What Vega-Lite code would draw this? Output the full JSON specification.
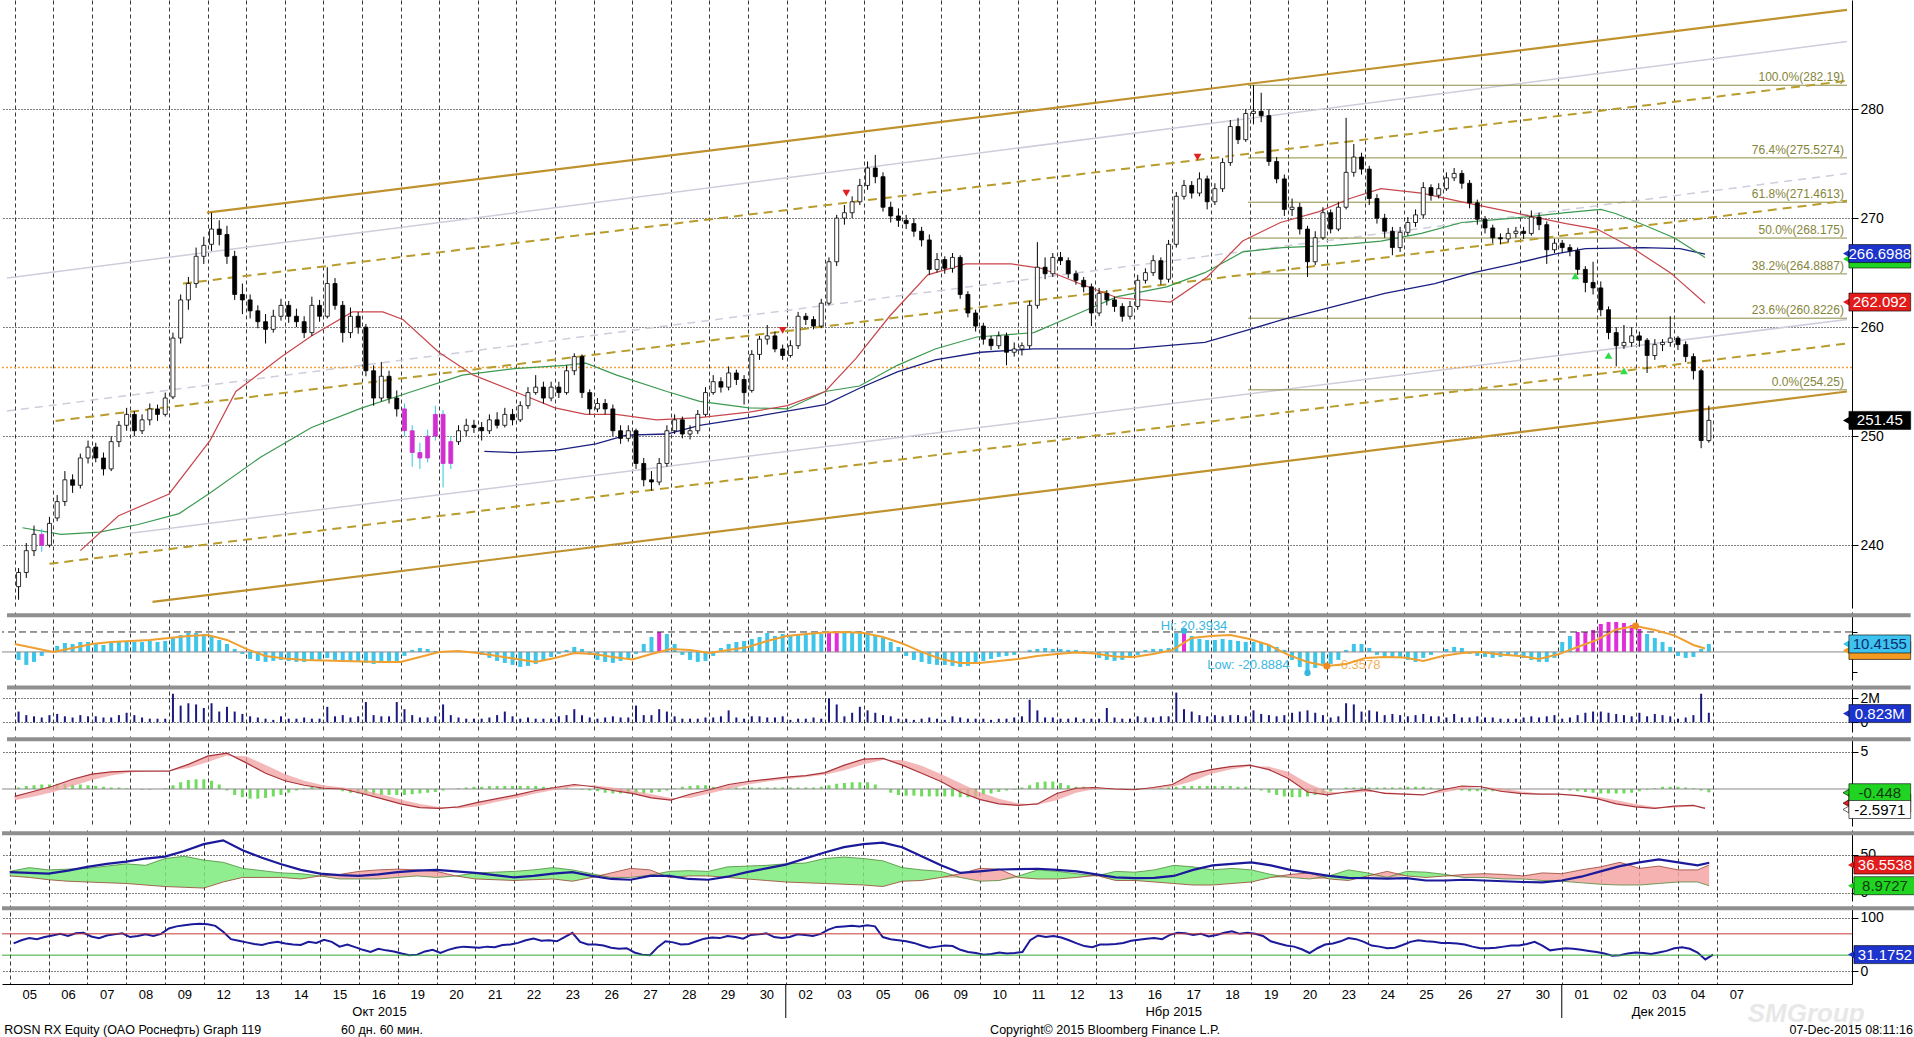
{
  "$schema": "https://vega.github.io/schema/vega-lite/v6.json",
  "background": "white",
  "padding": 0,
  "spacing": 4,
  "bounds": "flush",
  "config": {
    "font": "Liberation Sans",
    "view": {"stroke": null},
    "axis": {"labelFont": "Liberation Sans", "labelFontSize": 14, "labelColor": "#000", "domainColor": "#000", "tickColor": "#000"}
  },
  "datasets": {
    "bars": [
      {"t":0.1,"o":236.2,"h":237.9,"l":235,"c":237.5,"v":0.9,"m":-8,"mh":0.2,"r":52},
      {"t":0.3,"o":237.5,"h":240.2,"l":237,"c":239.5,"v":0.6,"m":-13,"mh":0.4,"r":58},
      {"t":0.5,"o":239.5,"h":241.8,"l":239,"c":241,"v":0.5,"m":-10,"mh":0.5,"r":62},
      {"t":0.7,"o":241,"h":241.5,"l":239.4,"c":240,"v":0.4,"m":-4,"mh":0.6,"r":60},
      {"t":0.9,"o":240,"h":242.6,"l":239.8,"c":242,"v":0.6,"m":1,"mh":0.6,"r":64},
      {"t":1.1,"o":242.5,"h":244.6,"l":242.2,"c":244,"v":0.7,"m":6,"mh":0.7,"r":67},
      {"t":1.3,"o":244,"h":246.8,"l":243.6,"c":246,"v":0.5,"m":9,"mh":0.7,"r":70},
      {"t":1.5,"o":246,"h":246.5,"l":244.8,"c":245.5,"v":0.4,"m":8,"mh":0.6,"r":66},
      {"t":1.7,"o":245.5,"h":248.4,"l":245.2,"c":248,"v":0.6,"m":10,"mh":0.6,"r":71},
      {"t":1.9,"o":248,"h":249.6,"l":247.5,"c":249,"v":0.5,"m":10,"mh":0.5,"r":72},
      {"t":2.1,"o":249,"h":249.4,"l":247.6,"c":248,"v":0.5,"m":8,"mh":0.4,"r":65},
      {"t":2.3,"o":248,"h":248.5,"l":246.4,"c":247,"v":0.4,"m":7,"mh":0.3,"r":62},
      {"t":2.5,"o":247,"h":250,"l":246.8,"c":249.5,"v":0.4,"m":9,"mh":0.2,"r":67},
      {"t":2.7,"o":249.5,"h":251.4,"l":249,"c":251,"v":0.6,"m":10,"mh":0.2,"r":69},
      {"t":2.9,"o":251,"h":252.6,"l":250.5,"c":252,"v":0.8,"m":11,"mh":0.1,"r":71},
      {"t":3.1,"o":252,"h":252.3,"l":250,"c":250.5,"v":0.6,"m":10,"mh":0,"r":64},
      {"t":3.3,"o":250.5,"h":252,"l":250.2,"c":251.5,"v":0.4,"m":10,"mh":-0.1,"r":66},
      {"t":3.5,"o":251.5,"h":253,"l":251,"c":252.5,"v":0.3,"m":11,"mh":-0.1,"r":69},
      {"t":3.7,"o":252.5,"h":252.9,"l":251.4,"c":252,"v":0.3,"m":10,"mh":0,"r":66},
      {"t":3.9,"o":252,"h":254,"l":251.8,"c":253.5,"v":0.3,"m":11,"mh":0.1,"r":70},
      {"t":4.1,"o":253.6,"h":259.5,"l":253.4,"c":259,"v":2.4,"m":14,"mh":0.5,"r":80},
      {"t":4.3,"o":259,"h":263,"l":258.5,"c":262.5,"v":1.4,"m":17,"mh":0.9,"r":84},
      {"t":4.5,"o":262.5,"h":264.6,"l":261.6,"c":264,"v":1.6,"m":19,"mh":1.2,"r":86},
      {"t":4.7,"o":264,"h":267.3,"l":263.6,"c":266.5,"v":1.5,"m":19,"mh":1.3,"r":88},
      {"t":4.9,"o":266.5,"h":268.3,"l":265.8,"c":267.5,"v":1.2,"m":18,"mh":1.3,"r":89},
      {"t":5.1,"o":267.6,"h":270.5,"l":267,"c":269,"v":1.6,"m":16,"mh":1.1,"r":88},
      {"t":5.3,"o":269,"h":269.8,"l":267.5,"c":268.5,"v":0.9,"m":12,"mh":0.6,"r":85},
      {"t":5.5,"o":268.5,"h":269.3,"l":265.8,"c":266.5,"v":1.3,"m":8,"mh":-0.2,"r":74},
      {"t":5.7,"o":266.5,"h":267,"l":262.5,"c":263,"v":0.9,"m":3,"mh":-0.8,"r":60},
      {"t":5.9,"o":263,"h":264,"l":261.2,"c":262.5,"v":0.7,"m":-2,"mh":-1.1,"r":57},
      {"t":6.1,"o":262.5,"h":263,"l":260.8,"c":261.5,"v":0.5,"m":-7,"mh":-1.3,"r":54},
      {"t":6.3,"o":261.5,"h":262,"l":259.9,"c":260.5,"v":0.4,"m":-9,"mh":-1.3,"r":51},
      {"t":6.5,"o":260.5,"h":261.2,"l":258.5,"c":259.8,"v":0.3,"m":-10,"mh":-1.2,"r":49},
      {"t":6.7,"o":259.8,"h":261.6,"l":259.5,"c":261,"v":0.2,"m":-9,"mh":-1,"r":53},
      {"t":6.9,"o":261,"h":262.6,"l":260.6,"c":262,"v":0.5,"m":-8,"mh":-0.8,"r":55},
      {"t":7.1,"o":262,"h":262.4,"l":260.4,"c":261,"v":0.3,"m":-9,"mh":-0.5,"r":52},
      {"t":7.3,"o":261,"h":261.7,"l":260,"c":260.5,"v":0.3,"m":-10,"mh":-0.2,"r":50},
      {"t":7.5,"o":260.5,"h":261,"l":259,"c":259.5,"v":0.4,"m":-10,"mh":0.1,"r":49},
      {"t":7.7,"o":259.5,"h":262.8,"l":259.2,"c":262,"v":0.3,"m":-9,"mh":0.3,"r":55},
      {"t":7.9,"o":262,"h":262.5,"l":260.5,"c":261,"v":0.3,"m":-8,"mh":0.3,"r":53},
      {"t":8.1,"o":261,"h":265.5,"l":260.8,"c":264,"v":1.3,"m":-6,"mh":0.2,"r":59},
      {"t":8.3,"o":264,"h":264.5,"l":261.6,"c":262,"v":0.5,"m":-8,"mh":0,"r":55},
      {"t":8.5,"o":262,"h":262.4,"l":258.6,"c":259.5,"v":0.6,"m":-10,"mh":-0.3,"r":46},
      {"t":8.7,"o":259.5,"h":261.8,"l":259,"c":261,"v":0.4,"m":-9,"mh":-0.5,"r":50},
      {"t":8.9,"o":261,"h":261.4,"l":259.4,"c":260,"v":0.5,"m":-10,"mh":-0.6,"r":45},
      {"t":9.1,"o":260,"h":260.3,"l":255.5,"c":256,"v":1.7,"m":-11,"mh":-0.7,"r":40},
      {"t":9.3,"o":256,"h":256.5,"l":252.8,"c":253.5,"v":0.6,"m":-12,"mh":-0.8,"r":36},
      {"t":9.5,"o":253.5,"h":256.8,"l":253.2,"c":255.5,"v":0.5,"m":-10,"mh":-0.8,"r":42},
      {"t":9.7,"o":255.5,"h":256,"l":253,"c":253.5,"v":0.5,"m":-11,"mh":-0.8,"r":39},
      {"t":9.9,"o":253.5,"h":254.2,"l":251.8,"c":252.5,"v":1.7,"m":-10,"mh":-0.8,"r":37},
      {"t":10.1,"o":252.5,"h":253,"l":250,"c":250.5,"v":1.1,"m":-4,"mh":-0.8,"r":33},
      {"t":10.3,"o":250.5,"h":251,"l":247.2,"c":248.5,"v":0.6,"m":2,"mh":-0.7,"r":30},
      {"t":10.5,"o":248.5,"h":249.4,"l":247,"c":248,"v":0.4,"m":4,"mh":-0.6,"r":31},
      {"t":10.7,"o":248,"h":250.6,"l":247.6,"c":250,"v":0.4,"m":3,"mh":-0.5,"r":37},
      {"t":10.9,"o":250,"h":252.8,"l":249.6,"c":252,"v":0.5,"m":1,"mh":-0.4,"r":40},
      {"t":11.1,"o":252,"h":252.4,"l":245.3,"c":247.5,"v":1.5,"m":0,"mh":-0.2,"r":34},
      {"t":11.3,"o":247.5,"h":250,"l":247,"c":249.5,"v":0.6,"m":1,"mh":0,"r":40},
      {"t":11.5,"o":249.5,"h":251,"l":249.2,"c":250.5,"v":0.4,"m":1,"mh":0.1,"r":44},
      {"t":11.7,"o":250.5,"h":251.6,"l":250,"c":251,"v":0.3,"m":1,"mh":0.2,"r":46},
      {"t":11.9,"o":251,"h":251.5,"l":250.3,"c":250.8,"v":0.3,"m":0,"mh":0.3,"r":45},
      {"t":12.1,"o":250.8,"h":251.3,"l":249.6,"c":250.5,"v":0.3,"m":-3,"mh":0.3,"r":44},
      {"t":12.3,"o":250.5,"h":252,"l":250.2,"c":251.5,"v":0.4,"m":-6,"mh":0.4,"r":46},
      {"t":12.5,"o":251.5,"h":252.2,"l":250.7,"c":251,"v":0.6,"m":-9,"mh":0.4,"r":45},
      {"t":12.7,"o":251,"h":252.6,"l":250.8,"c":252,"v":0.9,"m":-11,"mh":0.4,"r":49},
      {"t":12.9,"o":252,"h":252.5,"l":251,"c":251.5,"v":0.5,"m":-13,"mh":0.4,"r":50},
      {"t":13.1,"o":251.5,"h":253.2,"l":251.3,"c":252.8,"v":0.3,"m":-15,"mh":0.4,"r":53},
      {"t":13.3,"o":252.8,"h":254.5,"l":252.5,"c":254,"v":0.4,"m":-14,"mh":0.4,"r":58},
      {"t":13.5,"o":254,"h":255.6,"l":253.8,"c":254.5,"v":0.3,"m":-12,"mh":0.4,"r":61},
      {"t":13.7,"o":254.5,"h":255,"l":253,"c":253.5,"v":0.3,"m":-9,"mh":0.3,"r":57},
      {"t":13.9,"o":253.5,"h":255,"l":253.2,"c":254.5,"v":0.3,"m":-5,"mh":0.2,"r":58},
      {"t":14.1,"o":254.5,"h":255,"l":253.5,"c":254,"v":0.5,"m":-2,"mh":0.1,"r":56},
      {"t":14.3,"o":254,"h":256.5,"l":253.8,"c":256,"v":0.6,"m":2,"mh":0.1,"r":64},
      {"t":14.5,"o":256,"h":257.6,"l":255.6,"c":257.3,"v":1.1,"m":5,"mh":0,"r":72},
      {"t":14.7,"o":257.3,"h":257.5,"l":253.5,"c":254,"v":0.6,"m":3,"mh":-0.1,"r":55},
      {"t":14.9,"o":254,"h":254.3,"l":252,"c":252.5,"v":0.4,"m":-3,"mh":-0.2,"r":50},
      {"t":15.1,"o":252.5,"h":253.5,"l":252.2,"c":253,"v":0.3,"m":-8,"mh":-0.3,"r":50},
      {"t":15.3,"o":253,"h":253.4,"l":252,"c":252.5,"v":0.4,"m":-10,"mh":-0.5,"r":48},
      {"t":15.5,"o":252.5,"h":252.9,"l":250,"c":250.5,"v":0.5,"m":-11,"mh":-0.6,"r":44},
      {"t":15.7,"o":250.5,"h":251,"l":249.3,"c":249.8,"v":0.4,"m":-9,"mh":-0.6,"r":42},
      {"t":15.9,"o":249.8,"h":251,"l":249.5,"c":250.5,"v":0.4,"m":-7,"mh":-0.6,"r":43},
      {"t":16.1,"o":250.5,"h":250.7,"l":247,"c":247.5,"v":1.4,"m":-2,"mh":-0.6,"r":35},
      {"t":16.3,"o":247.5,"h":248,"l":245.4,"c":246,"v":0.6,"m":8,"mh":-0.6,"r":31},
      {"t":16.5,"o":246,"h":246.8,"l":245,"c":245.8,"v":0.6,"m":15,"mh":-0.5,"r":30},
      {"t":16.7,"o":245.8,"h":248,"l":245.5,"c":247.5,"v":1.1,"m":20,"mh":-0.4,"r":45},
      {"t":16.9,"o":247.5,"h":251,"l":247.2,"c":250.5,"v":0.9,"m":18,"mh":-0.2,"r":56},
      {"t":17.1,"o":250.5,"h":252,"l":250.2,"c":251.5,"v":0.5,"m":8,"mh":0.1,"r":54},
      {"t":17.3,"o":251.5,"h":251.8,"l":249.8,"c":250.2,"v":0.3,"m":-3,"mh":0.3,"r":50},
      {"t":17.5,"o":250.2,"h":251,"l":249.7,"c":250.5,"v":0.3,"m":-8,"mh":0.4,"r":51},
      {"t":17.7,"o":250.5,"h":252.4,"l":250.2,"c":252,"v":0.3,"m":-10,"mh":0.5,"r":56},
      {"t":17.9,"o":252,"h":254.5,"l":251.8,"c":254,"v":0.4,"m":-9,"mh":0.5,"r":61},
      {"t":18.1,"o":254,"h":255.6,"l":253.8,"c":255,"v":0.4,"m":-4,"mh":0.3,"r":63},
      {"t":18.3,"o":255,"h":255.4,"l":254,"c":254.5,"v":0.5,"m":4,"mh":0.2,"r":62},
      {"t":18.5,"o":254.5,"h":256.4,"l":254.2,"c":255.8,"v":1,"m":8,"mh":0.2,"r":66},
      {"t":18.7,"o":255.8,"h":256.1,"l":254.7,"c":255.2,"v":0.4,"m":10,"mh":0.2,"r":64},
      {"t":18.9,"o":255.2,"h":255.6,"l":252.9,"c":254,"v":0.3,"m":11,"mh":0.2,"r":61},
      {"t":19.1,"o":254.2,"h":257.9,"l":254,"c":257.5,"v":0.5,"m":13,"mh":0.2,"r":68},
      {"t":19.3,"o":257.5,"h":259.2,"l":257,"c":258.9,"v":0.5,"m":15,"mh":0.2,"r":69},
      {"t":19.5,"o":258.9,"h":260.2,"l":258.4,"c":259.2,"v":0.4,"m":19,"mh":0.2,"r":71},
      {"t":19.7,"o":259.2,"h":259.6,"l":257.7,"c":258,"v":0.4,"m":16,"mh":0.2,"r":64},
      {"t":19.9,"o":258,"h":258.4,"l":257,"c":257.4,"v":0.5,"m":18,"mh":0.2,"r":62},
      {"t":20.1,"o":257.4,"h":258.8,"l":257.2,"c":258.3,"v":0.2,"m":17,"mh":0.2,"r":64},
      {"t":20.3,"o":258.3,"h":261.4,"l":258,"c":261,"v":0.3,"m":17,"mh":0.2,"r":69},
      {"t":20.5,"o":261,"h":261.3,"l":260.2,"c":260.7,"v":0.3,"m":18,"mh":0.2,"r":68},
      {"t":20.7,"o":260.7,"h":261,"l":259.8,"c":260.1,"v":0.4,"m":18,"mh":0.2,"r":66},
      {"t":20.9,"o":260.1,"h":262.6,"l":259.9,"c":262.2,"v":0.3,"m":18,"mh":0.3,"r":70},
      {"t":21.1,"o":262.2,"h":266.4,"l":262,"c":266,"v":2,"m":20,"mh":0.5,"r":78},
      {"t":21.3,"o":266,"h":270.3,"l":265.6,"c":270,"v":1.5,"m":20,"mh":0.7,"r":83},
      {"t":21.5,"o":270,"h":271.2,"l":269.4,"c":270.5,"v":0.5,"m":19,"mh":0.8,"r":84},
      {"t":21.7,"o":270.5,"h":272,"l":270,"c":271.5,"v":0.8,"m":19,"mh":0.9,"r":85},
      {"t":21.9,"o":271.5,"h":273.6,"l":271.2,"c":273,"v":1.3,"m":19,"mh":0.9,"r":84},
      {"t":22.1,"o":273,"h":275.2,"l":272.6,"c":274.6,"v":1,"m":18,"mh":0.9,"r":86},
      {"t":22.3,"o":274.6,"h":275.8,"l":273.2,"c":273.8,"v":0.8,"m":16,"mh":0.6,"r":84},
      {"t":22.5,"o":273.8,"h":274.2,"l":270.6,"c":271,"v":0.6,"m":14,"mh":0,"r":64},
      {"t":22.7,"o":271,"h":271.5,"l":269.6,"c":270.2,"v":0.5,"m":10,"mh":-0.5,"r":60},
      {"t":22.9,"o":270.2,"h":270.9,"l":269.2,"c":269.8,"v":0.3,"m":5,"mh":-0.8,"r":58},
      {"t":23.1,"o":269.8,"h":270.3,"l":269,"c":269.5,"v":0.3,"m":-4,"mh":-0.9,"r":56},
      {"t":23.3,"o":269.5,"h":270,"l":268.3,"c":268.8,"v":0.2,"m":-8,"mh":-0.9,"r":53},
      {"t":23.5,"o":268.8,"h":269.2,"l":267.4,"c":268,"v":0.3,"m":-10,"mh":-1,"r":48},
      {"t":23.7,"o":268,"h":268.5,"l":264.8,"c":265.3,"v":0.4,"m":-12,"mh":-1,"r":44},
      {"t":23.9,"o":265.3,"h":266.8,"l":265,"c":266.2,"v":0.3,"m":-13,"mh":-1,"r":46},
      {"t":24.1,"o":266.2,"h":266.5,"l":264.9,"c":265.4,"v":0.2,"m":-13,"mh":-1,"r":48},
      {"t":24.3,"o":265.4,"h":266.8,"l":265,"c":266.4,"v":0.5,"m":-14,"mh":-1,"r":47},
      {"t":24.5,"o":266.4,"h":266.6,"l":262.6,"c":263,"v":0.4,"m":-15,"mh":-1.1,"r":40},
      {"t":24.7,"o":263,"h":263.3,"l":260.9,"c":261.3,"v":0.3,"m":-14,"mh":-1.1,"r":36},
      {"t":24.9,"o":261.3,"h":261.6,"l":259.6,"c":260.1,"v":0.3,"m":-12,"mh":-1,"r":34},
      {"t":25.1,"o":260.1,"h":260.4,"l":258.4,"c":258.9,"v":0.3,"m":-9,"mh":-0.8,"r":31},
      {"t":25.3,"o":258.9,"h":259.2,"l":257.9,"c":258.3,"v":0.2,"m":-7,"mh":-0.6,"r":32},
      {"t":25.5,"o":258.3,"h":259.6,"l":258,"c":259.2,"v":0.3,"m":-5,"mh":-0.4,"r":35},
      {"t":25.7,"o":259.2,"h":259.5,"l":256.5,"c":257.7,"v":0.3,"m":-4,"mh":-0.2,"r":33},
      {"t":25.9,"o":257.7,"h":258.6,"l":257.3,"c":258,"v":0.4,"m":-3,"mh":-0.1,"r":34},
      {"t":26.1,"o":258,"h":258.6,"l":257.4,"c":258.3,"v":0.5,"m":0,"mh":0.2,"r":36},
      {"t":26.3,"o":258.3,"h":262.4,"l":258,"c":262,"v":1.9,"m":2,"mh":0.5,"r":58},
      {"t":26.5,"o":262,"h":267.8,"l":261.7,"c":265.5,"v":1,"m":3,"mh":0.9,"r":67},
      {"t":26.7,"o":265.5,"h":266.4,"l":264.4,"c":264.9,"v":0.4,"m":4,"mh":1,"r":64},
      {"t":26.9,"o":264.9,"h":266.8,"l":264.6,"c":266.4,"v":0.4,"m":3,"mh":1,"r":66},
      {"t":27.1,"o":266.4,"h":266.9,"l":265.7,"c":266.1,"v":0.3,"m":3,"mh":0.8,"r":63},
      {"t":27.3,"o":266.1,"h":266.4,"l":264.5,"c":264.9,"v":0.3,"m":2,"mh":0.5,"r":58},
      {"t":27.5,"o":264.9,"h":265.2,"l":263.9,"c":264.3,"v":0.4,"m":2,"mh":0.3,"r":52},
      {"t":27.7,"o":264.3,"h":264.6,"l":263.2,"c":263.7,"v":0.3,"m":1,"mh":0.3,"r":47},
      {"t":27.9,"o":263.7,"h":264,"l":260.1,"c":261.3,"v":0.3,"m":-2,"mh":0.2,"r":45},
      {"t":28.1,"o":261.3,"h":263.6,"l":261,"c":263.1,"v":0.3,"m":-6,"mh":0.1,"r":50},
      {"t":28.3,"o":263.1,"h":263.4,"l":262,"c":262.5,"v":1.2,"m":-8,"mh":0,"r":50},
      {"t":28.5,"o":262.5,"h":262.8,"l":261.4,"c":261.9,"v":0.4,"m":-9,"mh":0,"r":51},
      {"t":28.7,"o":261.9,"h":262.2,"l":260.5,"c":261,"v":0.3,"m":-8,"mh":0,"r":53},
      {"t":28.9,"o":261,"h":262.4,"l":260.7,"c":261.9,"v":0.3,"m":-6,"mh":0,"r":57},
      {"t":29.1,"o":261.9,"h":264.8,"l":261.6,"c":264.3,"v":0.5,"m":-3,"mh":0.1,"r":59},
      {"t":29.3,"o":264.3,"h":265.4,"l":264,"c":265,"v":0.4,"m":2,"mh":0.1,"r":61},
      {"t":29.5,"o":265,"h":266.6,"l":264.7,"c":266.1,"v":0.4,"m":3,"mh":0.1,"r":62},
      {"t":29.7,"o":266.1,"h":266.4,"l":263.9,"c":264.4,"v":0.5,"m":3,"mh":0.1,"r":60},
      {"t":29.9,"o":264.4,"h":268,"l":264.1,"c":267.6,"v":0.5,"m":4,"mh":0.2,"r":68},
      {"t":30.1,"o":267.6,"h":272.4,"l":267.3,"c":272,"v":2.5,"m":19,"mh":0.3,"r":72},
      {"t":30.3,"o":272,"h":273.5,"l":271.7,"c":273,"v":1.1,"m":20,"mh":0.4,"r":71},
      {"t":30.5,"o":273,"h":273.4,"l":271.8,"c":272.3,"v":0.9,"m":16,"mh":0.4,"r":68},
      {"t":30.7,"o":272.3,"h":274.2,"l":272,"c":273.6,"v":0.6,"m":13,"mh":0.4,"r":70},
      {"t":30.9,"o":273.6,"h":273.9,"l":270.8,"c":271.5,"v":0.5,"m":12,"mh":0.4,"r":65},
      {"t":31.1,"o":271.5,"h":273.2,"l":271.2,"c":272.7,"v":0.6,"m":12,"mh":0.4,"r":68},
      {"t":31.3,"o":272.7,"h":275.5,"l":272.4,"c":275.1,"v":0.5,"m":13,"mh":0.4,"r":72},
      {"t":31.5,"o":275.1,"h":279,"l":274.8,"c":278.4,"v":0.6,"m":12,"mh":0.4,"r":75},
      {"t":31.7,"o":278.4,"h":279.2,"l":276.8,"c":277.2,"v":0.6,"m":11,"mh":0.3,"r":70},
      {"t":31.9,"o":277.2,"h":280,"l":277,"c":279.6,"v":0.5,"m":10,"mh":0.3,"r":72},
      {"t":32.1,"o":279.6,"h":282.2,"l":278.6,"c":279.8,"v":1,"m":10,"mh":0.1,"r":70},
      {"t":32.3,"o":279.8,"h":281.5,"l":278.8,"c":279.4,"v":0.7,"m":9,"mh":-0.2,"r":66},
      {"t":32.5,"o":279.4,"h":280,"l":274.8,"c":275.2,"v":0.6,"m":7,"mh":-0.5,"r":56},
      {"t":32.7,"o":275.2,"h":275.6,"l":273.2,"c":273.6,"v":0.5,"m":5,"mh":-0.8,"r":52},
      {"t":32.9,"o":273.6,"h":274,"l":270.2,"c":270.8,"v":0.6,"m":2,"mh":-1,"r":48},
      {"t":33.1,"o":270.8,"h":271.8,"l":270.2,"c":271,"v":0.8,"m":-8,"mh":-1.1,"r":46},
      {"t":33.3,"o":271,"h":271.4,"l":268.5,"c":269,"v":0.9,"m":-15,"mh":-1.1,"r":41},
      {"t":33.5,"o":269,"h":269.3,"l":264.6,"c":266,"v":1,"m":-21,"mh":-1,"r":34},
      {"t":33.7,"o":266,"h":268.8,"l":265.7,"c":268.2,"v":0.8,"m":-16,"mh":-0.8,"r":43},
      {"t":33.9,"o":268.2,"h":271,"l":268,"c":270.5,"v":0.6,"m":-12,"mh":-0.6,"r":50},
      {"t":34.1,"o":270.5,"h":270.8,"l":268.6,"c":269,"v":0.4,"m":-12,"mh":-0.3,"r":52},
      {"t":34.3,"o":269,"h":271.5,"l":268.8,"c":271,"v":0.5,"m":-8,"mh":0,"r":56},
      {"t":34.5,"o":271,"h":279.2,"l":270.8,"c":274.2,"v":1.6,"m":2,"mh":0.2,"r":62},
      {"t":34.7,"o":274.2,"h":276.8,"l":273.8,"c":275.6,"v":1.5,"m":8,"mh":0.2,"r":60},
      {"t":34.9,"o":275.6,"h":276,"l":274,"c":274.5,"v":0.9,"m":8,"mh":0.2,"r":55},
      {"t":35.1,"o":274.5,"h":274.8,"l":271.2,"c":271.8,"v":1,"m":4,"mh":0.2,"r":48},
      {"t":35.3,"o":271.8,"h":272.2,"l":269.5,"c":270,"v":0.9,"m":-3,"mh":0.2,"r":46},
      {"t":35.5,"o":270,"h":270.4,"l":268.2,"c":268.8,"v":0.6,"m":-5,"mh":0.2,"r":43},
      {"t":35.7,"o":268.8,"h":269.2,"l":266.6,"c":267.3,"v":0.7,"m":-6,"mh":0.2,"r":44},
      {"t":35.9,"o":267.3,"h":269.2,"l":266.9,"c":268.7,"v":0.6,"m":-5,"mh":0.2,"r":49},
      {"t":36.1,"o":268.7,"h":270.1,"l":268.4,"c":269.6,"v":0.5,"m":-8,"mh":0.3,"r":55},
      {"t":36.3,"o":269.6,"h":270.8,"l":269.2,"c":270.3,"v":0.6,"m":-10,"mh":0.3,"r":58},
      {"t":36.5,"o":270.3,"h":273.3,"l":270,"c":272.8,"v":0.7,"m":-6,"mh":0.3,"r":56},
      {"t":36.7,"o":272.8,"h":273.1,"l":271.6,"c":272.1,"v":0.5,"m":-3,"mh":0.2,"r":55},
      {"t":36.9,"o":272.1,"h":273.2,"l":271.8,"c":272.7,"v":0.5,"m":0,"mh":0.1,"r":53},
      {"t":37.1,"o":272.7,"h":274.2,"l":272.5,"c":273.7,"v":0.4,"m":3,"mh":0,"r":53},
      {"t":37.3,"o":273.7,"h":274.6,"l":273.4,"c":274.1,"v":0.7,"m":5,"mh":-0.1,"r":52},
      {"t":37.5,"o":274.1,"h":274.4,"l":272.7,"c":273.2,"v":0.4,"m":4,"mh":-0.2,"r":50},
      {"t":37.7,"o":273.2,"h":273.5,"l":270.9,"c":271.4,"v":0.4,"m":-2,"mh":-0.3,"r":46},
      {"t":37.9,"o":271.4,"h":271.7,"l":269.4,"c":269.9,"v":0.5,"m":-4,"mh":-0.3,"r":43},
      {"t":38.1,"o":269.9,"h":270.2,"l":268.6,"c":269.1,"v":0.4,"m":-5,"mh":-0.3,"r":43},
      {"t":38.3,"o":269.1,"h":269.4,"l":267.7,"c":268.2,"v":0.4,"m":-6,"mh":-0.3,"r":44},
      {"t":38.5,"o":268.2,"h":268.6,"l":267.6,"c":268.1,"v":0.3,"m":-5,"mh":-0.2,"r":46},
      {"t":38.7,"o":268.1,"h":269.1,"l":267.8,"c":268.6,"v":0.3,"m":-4,"mh":-0.1,"r":48},
      {"t":38.9,"o":268.6,"h":269.2,"l":268.2,"c":268.8,"v":0.3,"m":-3,"mh":0,"r":48},
      {"t":39.1,"o":268.8,"h":269.2,"l":268.1,"c":268.6,"v":0.4,"m":-6,"mh":0,"r":51},
      {"t":39.3,"o":268.6,"h":270.7,"l":268.4,"c":270.1,"v":0.5,"m":-8,"mh":0,"r":55},
      {"t":39.5,"o":270.1,"h":270.5,"l":268.9,"c":269.4,"v":0.4,"m":-10,"mh":0,"r":48},
      {"t":39.7,"o":269.4,"h":269.7,"l":265.8,"c":267.1,"v":0.5,"m":-10,"mh":0,"r":39},
      {"t":39.9,"o":267.1,"h":268.1,"l":266.8,"c":267.7,"v":0.6,"m":-6,"mh":0,"r":41},
      {"t":40.1,"o":267.7,"h":268,"l":266.8,"c":267.3,"v":0.3,"m":10,"mh":-0.1,"r":43},
      {"t":40.3,"o":267.3,"h":267.6,"l":266.5,"c":267,"v":0.4,"m":16,"mh":-0.2,"r":42},
      {"t":40.5,"o":267,"h":267.3,"l":264.8,"c":265.3,"v":0.6,"m":20,"mh":-0.3,"r":40},
      {"t":40.7,"o":265.3,"h":265.6,"l":263.2,"c":264.1,"v":0.8,"m":20,"mh":-0.4,"r":38},
      {"t":40.9,"o":264.1,"h":266,"l":263,"c":263.6,"v":0.9,"m":22,"mh":-0.5,"r":36},
      {"t":41.1,"o":263.6,"h":264.2,"l":261,"c":261.6,"v":0.9,"m":28,"mh":-0.6,"r":33},
      {"t":41.3,"o":261.6,"h":261.9,"l":258.9,"c":259.5,"v":0.8,"m":30,"mh":-0.6,"r":29},
      {"t":41.5,"o":259.5,"h":260,"l":256.4,"c":258.3,"v":0.7,"m":30,"mh":-0.6,"r":30},
      {"t":41.7,"o":258.3,"h":260.2,"l":258,"c":258.6,"v":0.6,"m":29,"mh":-0.6,"r":33},
      {"t":41.9,"o":258.6,"h":260,"l":258.2,"c":259.2,"v":0.5,"m":27,"mh":-0.5,"r":35},
      {"t":42.1,"o":259.2,"h":259.6,"l":258.2,"c":258.8,"v":0.8,"m":23,"mh":-0.3,"r":34},
      {"t":42.3,"o":258.8,"h":259,"l":255.8,"c":257.4,"v":0.5,"m":18,"mh":-0.1,"r":32},
      {"t":42.5,"o":257.4,"h":258.9,"l":257,"c":258.4,"v":0.7,"m":14,"mh":0.1,"r":35},
      {"t":42.7,"o":258.4,"h":258.9,"l":257.8,"c":258.6,"v":0.6,"m":10,"mh":0.3,"r":38},
      {"t":42.9,"o":258.6,"h":261,"l":258.2,"c":259,"v":0.5,"m":5,"mh":0.3,"r":43},
      {"t":43.1,"o":259,"h":259.2,"l":257.9,"c":258.4,"v":0.3,"m":-4,"mh":0.3,"r":45},
      {"t":43.3,"o":258.4,"h":258.7,"l":256.8,"c":257.3,"v":0.4,"m":-6,"mh":0.2,"r":42},
      {"t":43.5,"o":257.3,"h":257.6,"l":255.2,"c":256,"v":0.6,"m":-5,"mh":0.1,"r":35},
      {"t":43.7,"o":256,"h":256.2,"l":248.9,"c":249.6,"v":2.4,"m":3,"mh":-0.2,"r":22},
      {"t":43.9,"o":249.6,"h":252.8,"l":249.4,"c":251.45,"v":0.8,"m":8,"mh":-0.45,"r":31}
    ],
    "ind": [
      {"t":0,"macd":-1.0,"sig":-1.5,"adx":27,"dip":28,"dim":22,"os":8},
      {"t":0.5,"macd":-0.3,"sig":-1.0,"adx":26,"dip":33,"dim":20,"os":4},
      {"t":1,"macd":0.4,"sig":-0.4,"adx":25,"dip":30,"dim":17,"os":0},
      {"t":1.5,"macd":1.3,"sig":0.4,"adx":29,"dip":31,"dim":15,"os":4},
      {"t":2,"macd":2.0,"sig":1.2,"adx":34,"dip":32,"dim":14,"os":8},
      {"t":2.5,"macd":2.3,"sig":1.8,"adx":38,"dip":35,"dim":13,"os":10},
      {"t":3,"macd":2.4,"sig":2.2,"adx":41,"dip":38,"dim":12,"os":11},
      {"t":3.5,"macd":2.4,"sig":2.4,"adx":45,"dip":36,"dim":10,"os":12},
      {"t":4,"macd":2.4,"sig":2.4,"adx":47.5,"dip":45,"dim":8,"os":14},
      {"t":4.5,"macd":3.3,"sig":2.8,"adx":55,"dip":48,"dim":7,"os":16},
      {"t":5,"macd":4.4,"sig":3.6,"adx":64,"dip":43,"dim":6,"os":17},
      {"t":5.5,"macd":4.8,"sig":4.5,"adx":69,"dip":40,"dim":14,"os":12},
      {"t":6,"macd":3.5,"sig":4.4,"adx":56,"dip":32,"dim":20,"os":3},
      {"t":6.5,"macd":2.1,"sig":3.2,"adx":46,"dip":29,"dim":20,"os":-4},
      {"t":7,"macd":1.1,"sig":2.0,"adx":37.5,"dip":26,"dim":20,"os":-6.5},
      {"t":7.5,"macd":0.5,"sig":1.1,"adx":30,"dip":25,"dim":18,"os":-8},
      {"t":8,"macd":0.1,"sig":0.5,"adx":25,"dip":22,"dim":22,"os":-8.5},
      {"t":8.5,"macd":0.0,"sig":0.2,"adx":23,"dip":18,"dim":24,"os":-9},
      {"t":9,"macd":-0.6,"sig":-0.1,"adx":22,"dip":18,"dim":28,"os":-9.5},
      {"t":9.5,"macd":-1.3,"sig":-0.7,"adx":24,"dip":18,"dim":30,"os":-10},
      {"t":10,"macd":-2.0,"sig":-1.4,"adx":27,"dip":20,"dim":31,"os":-10},
      {"t":10.5,"macd":-2.5,"sig":-2.0,"adx":29,"dip":22,"dim":30,"os":-5},
      {"t":11,"macd":-2.6,"sig":-2.4,"adx":30,"dip":20,"dim":28,"os":0},
      {"t":11.5,"macd":-2.4,"sig":-2.6,"adx":28,"dip":22,"dim":22,"os":1},
      {"t":12,"macd":-1.8,"sig":-2.3,"adx":26,"dip":26,"dim":18,"os":-1},
      {"t":12.5,"macd":-1.3,"sig":-1.7,"adx":23,"dip":27,"dim":17,"os":-4},
      {"t":13,"macd":-0.8,"sig":-1.2,"adx":20,"dip":28,"dim":16,"os":-7},
      {"t":13.5,"macd":-0.2,"sig":-0.6,"adx":22,"dip":30,"dim":17,"os":-10},
      {"t":14,"macd":0.2,"sig":-0.1,"adx":25,"dip":33,"dim":18,"os":-6},
      {"t":14.5,"macd":0.6,"sig":0.3,"adx":27,"dip":30,"dim":15,"os":-1},
      {"t":15,"macd":0.3,"sig":0.5,"adx":22,"dip":25,"dim":20,"os":-2},
      {"t":15.5,"macd":-0.2,"sig":0.2,"adx":18,"dip":20,"dim":26,"os":-5},
      {"t":16,"macd":-0.6,"sig":-0.2,"adx":17,"dip":20,"dim":32,"os":-7.5},
      {"t":16.5,"macd":-1.2,"sig":-0.7,"adx":22,"dip":23,"dim":30,"os":-2},
      {"t":17,"macd":-1.5,"sig":-1.2,"adx":22,"dip":28,"dim":20,"os":3},
      {"t":17.5,"macd":-0.7,"sig":-1.2,"adx":18,"dip":29,"dim":22,"os":2},
      {"t":18,"macd":-0.1,"sig":-0.6,"adx":17,"dip":28,"dim":22,"os":-1},
      {"t":18.5,"macd":0.6,"sig":0.0,"adx":21,"dip":34,"dim":20,"os":2},
      {"t":19,"macd":1.0,"sig":0.6,"adx":27,"dip":35,"dim":18,"os":5},
      {"t":19.5,"macd":1.3,"sig":1.0,"adx":32,"dip":36,"dim":16,"os":11},
      {"t":20,"macd":1.6,"sig":1.3,"adx":37,"dip":38,"dim":14,"os":16},
      {"t":20.5,"macd":1.8,"sig":1.6,"adx":45,"dip":39,"dim":13,"os":18},
      {"t":21,"macd":2.2,"sig":1.9,"adx":53,"dip":45,"dim":12,"os":19.5},
      {"t":21.5,"macd":3.2,"sig":2.5,"adx":60,"dip":47,"dim":11,"os":20},
      {"t":22,"macd":4.0,"sig":3.3,"adx":64,"dip":45,"dim":10,"os":19},
      {"t":22.5,"macd":4.1,"sig":3.9,"adx":66,"dip":42,"dim":8,"os":15},
      {"t":23,"macd":3.2,"sig":3.9,"adx":60,"dip":33,"dim":15,"os":8.5},
      {"t":23.5,"macd":2.1,"sig":3.1,"adx":48,"dip":30,"dim":16,"os":0},
      {"t":24,"macd":1.0,"sig":2.0,"adx":36,"dip":28,"dim":20,"os":-7},
      {"t":24.5,"macd":-0.4,"sig":0.8,"adx":26,"dip":20,"dim":25,"os":-11},
      {"t":25,"macd":-1.4,"sig":-0.4,"adx":28,"dip":15,"dim":32,"os":-11},
      {"t":25.5,"macd":-2.0,"sig":-1.3,"adx":30.5,"dip":16,"dim":31,"os":-9},
      {"t":26,"macd":-2.2,"sig":-1.9,"adx":31,"dip":22,"dim":20,"os":-7},
      {"t":26.5,"macd":-2.0,"sig":-2.1,"adx":31.5,"dip":30,"dim":18,"os":-4},
      {"t":27,"macd":-0.6,"sig":-1.5,"adx":30,"dip":28,"dim":18,"os":-2},
      {"t":27.5,"macd":0.1,"sig":-0.5,"adx":28,"dip":25,"dim":20,"os":-0.5},
      {"t":28,"macd":0.2,"sig":0.0,"adx":24,"dip":22,"dim":23,"os":-1.5},
      {"t":28.5,"macd":0.0,"sig":0.1,"adx":20,"dip":28,"dim":16,"os":-4.5},
      {"t":29,"macd":-0.1,"sig":0.0,"adx":19,"dip":27,"dim":16,"os":-5},
      {"t":29.5,"macd":0.2,"sig":0.0,"adx":19.5,"dip":30,"dim":14,"os":-2},
      {"t":30,"macd":0.6,"sig":0.3,"adx":22,"dip":36,"dim":12,"os":2},
      {"t":30.5,"macd":2.0,"sig":1.0,"adx":30,"dip":34,"dim":10,"os":14},
      {"t":31,"macd":2.6,"sig":2.0,"adx":36,"dip":30,"dim":10,"os":16},
      {"t":31.5,"macd":3.0,"sig":2.6,"adx":38,"dip":32,"dim":12,"os":17},
      {"t":32,"macd":3.2,"sig":3.0,"adx":40,"dip":30,"dim":14,"os":13},
      {"t":32.5,"macd":2.6,"sig":3.0,"adx":36,"dip":24,"dim":20,"os":7},
      {"t":33,"macd":1.4,"sig":2.3,"adx":30,"dip":20,"dim":24,"os":-3},
      {"t":33.5,"macd":-0.4,"sig":0.8,"adx":26,"dip":18,"dim":26,"os":-10},
      {"t":34,"macd":-0.8,"sig":-0.3,"adx":22,"dip":22,"dim":18,"os":-14},
      {"t":34.5,"macd":-0.4,"sig":-0.6,"adx":19.5,"dip":30,"dim":16,"os":-12},
      {"t":35,"macd":-0.1,"sig":-0.4,"adx":19,"dip":26,"dim":22,"os":-6},
      {"t":35.5,"macd":-0.6,"sig":-0.4,"adx":18.5,"dip":20,"dim":28,"os":-5},
      {"t":36,"macd":-0.7,"sig":-0.6,"adx":19,"dip":28,"dim":22,"os":-5.5},
      {"t":36.5,"macd":-0.8,"sig":-0.7,"adx":16,"dip":27,"dim":20,"os":-9},
      {"t":37,"macd":-0.1,"sig":-0.5,"adx":16,"dip":24,"dim":22,"os":-4},
      {"t":37.5,"macd":0.4,"sig":0.0,"adx":17,"dip":20,"dim":24,"os":-1},
      {"t":38,"macd":0.3,"sig":0.3,"adx":16,"dip":20,"dim":25,"os":0},
      {"t":38.5,"macd":-0.3,"sig":0.1,"adx":15,"dip":18,"dim":24,"os":-2.5},
      {"t":39,"macd":-0.6,"sig":-0.3,"adx":14,"dip":18,"dim":22,"os":-4},
      {"t":39.5,"macd":-0.7,"sig":-0.6,"adx":13.5,"dip":16,"dim":26,"os":-7},
      {"t":40,"macd":-0.7,"sig":-0.7,"adx":16,"dip":15,"dim":25,"os":-2.4},
      {"t":40.5,"macd":-0.9,"sig":-0.8,"adx":21,"dip":13,"dim":30,"os":5},
      {"t":41,"macd":-1.3,"sig":-1.0,"adx":28,"dip":11,"dim":34,"os":12},
      {"t":41.5,"macd":-2.0,"sig":-1.5,"adx":35,"dip":10,"dim":40,"os":22.5},
      {"t":42,"macd":-2.4,"sig":-2.0,"adx":40,"dip":10,"dim":32,"os":26},
      {"t":42.5,"macd":-2.6,"sig":-2.4,"adx":44,"dip":12,"dim":35,"os":22},
      {"t":43,"macd":-2.3,"sig":-2.5,"adx":40,"dip":14,"dim":30,"os":16.6},
      {"t":43.5,"macd":-2.2,"sig":-2.3,"adx":36,"dip":14,"dim":30,"os":7},
      {"t":43.8,"macd":-2.6,"sig":-2.4,"adx":39.5,"dip":9,"dim":36.5,"os":3.4}
    ],
    "ma": [
      {"s":"r","t":1.7,"v":239.5},{"s":"r","t":2.69,"v":242.7},{"s":"r","t":4.0,"v":244.7},{"s":"r","t":5.06,"v":249.6},{"s":"r","t":5.73,"v":254.1},{"s":"r","t":6.92,"v":257.3},{"s":"r","t":7.69,"v":259.2},{"s":"r","t":8.75,"v":261.4},{"s":"r","t":9.54,"v":261.4},{"s":"r","t":10.06,"v":260.7},{"s":"r","t":10.99,"v":257.7},{"s":"r","t":11.89,"v":255.6},{"s":"r","t":12.95,"v":254.1},{"s":"r","t":14.0,"v":252.6},{"s":"r","t":14.8,"v":252.0},{"s":"r","t":15.58,"v":252.0},{"s":"r","t":16.63,"v":251.5},{"s":"r","t":17.75,"v":251.7},{"s":"r","t":19.03,"v":252.2},{"s":"r","t":20.02,"v":252.8},{"s":"r","t":21.0,"v":254.1},{"s":"r","t":21.79,"v":257.1},{"s":"r","t":22.67,"v":261.0},{"s":"r","t":23.66,"v":264.8},{"s":"r","t":24.64,"v":265.8},{"s":"r","t":25.82,"v":265.8},{"s":"r","t":26.61,"v":265.4},{"s":"r","t":27.59,"v":264.0},{"s":"r","t":28.57,"v":262.7},{"s":"r","t":29.95,"v":262.3},{"s":"r","t":30.9,"v":264.6},{"s":"r","t":31.82,"v":267.9},{"s":"r","t":32.8,"v":269.6},{"s":"r","t":33.8,"v":270.6},{"s":"r","t":34.6,"v":271.8},{"s":"r","t":35.4,"v":272.7},{"s":"r","t":36.45,"v":272.3},{"s":"r","t":37.5,"v":271.5},{"s":"r","t":38.85,"v":270.5},{"s":"r","t":40.2,"v":269.5},{"s":"r","t":41.0,"v":269.0},{"s":"r","t":41.9,"v":267.3},{"s":"r","t":42.9,"v":265.0},{"s":"r","t":43.8,"v":262.2},
      {"s":"g","t":0.2,"v":241.6},{"s":"g","t":1.2,"v":241.0},{"s":"g","t":2.2,"v":241.2},{"s":"g","t":3.2,"v":241.9},{"s":"g","t":4.26,"v":242.9},{"s":"g","t":5.06,"v":244.8},{"s":"g","t":6.38,"v":248.1},{"s":"g","t":7.69,"v":250.8},{"s":"g","t":9.0,"v":252.6},{"s":"g","t":10.3,"v":254.1},{"s":"g","t":11.6,"v":255.6},{"s":"g","t":12.95,"v":256.2},{"s":"g","t":14.26,"v":256.5},{"s":"g","t":14.8,"v":256.7},{"s":"g","t":15.6,"v":255.6},{"s":"g","t":16.9,"v":254.1},{"s":"g","t":17.75,"v":253.2},{"s":"g","t":19.03,"v":252.6},{"s":"g","t":20.02,"v":252.5},{"s":"g","t":21.0,"v":254.1},{"s":"g","t":21.89,"v":254.6},{"s":"g","t":22.87,"v":256.5},{"s":"g","t":23.85,"v":258.0},{"s":"g","t":24.93,"v":259.1},{"s":"g","t":26.41,"v":259.5},{"s":"g","t":27.59,"v":261.3},{"s":"g","t":28.57,"v":262.8},{"s":"g","t":29.85,"v":263.7},{"s":"g","t":30.84,"v":265.0},{"s":"g","t":31.82,"v":266.9},{"s":"g","t":32.85,"v":267.3},{"s":"g","t":34.2,"v":267.5},{"s":"g","t":35.4,"v":267.9},{"s":"g","t":36.45,"v":268.6},{"s":"g","t":37.5,"v":269.6},{"s":"g","t":38.85,"v":270.0},{"s":"g","t":40.2,"v":270.5},{"s":"g","t":41.1,"v":270.8},{"s":"g","t":41.5,"v":270.4},{"s":"g","t":42.2,"v":269.4},{"s":"g","t":43.0,"v":268.2},{"s":"g","t":43.8,"v":266.4},
      {"s":"b","t":12.17,"v":248.6},{"s":"b","t":12.95,"v":248.5},{"s":"b","t":14.0,"v":248.7},{"s":"b","t":15.06,"v":249.3},{"s":"b","t":15.85,"v":250.1},{"s":"b","t":16.9,"v":250.2},{"s":"b","t":17.75,"v":251.0},{"s":"b","t":19.03,"v":251.7},{"s":"b","t":21.0,"v":252.9},{"s":"b","t":21.89,"v":254.4},{"s":"b","t":22.87,"v":255.9},{"s":"b","t":23.85,"v":257.0},{"s":"b","t":25.03,"v":257.7},{"s":"b","t":26.41,"v":258.0},{"s":"b","t":28.87,"v":258.0},{"s":"b","t":29.85,"v":258.3},{"s":"b","t":30.84,"v":258.6},{"s":"b","t":31.92,"v":259.7},{"s":"b","t":32.85,"v":260.7},{"s":"b","t":34.2,"v":261.9},{"s":"b","t":35.5,"v":263.1},{"s":"b","t":36.8,"v":264.0},{"s":"b","t":37.8,"v":265.0},{"s":"b","t":38.85,"v":265.8},{"s":"b","t":39.9,"v":266.7},{"s":"b","t":40.7,"v":267.2},{"s":"b","t":42.2,"v":267.3},{"s":"b","t":43.15,"v":267.2},{"s":"b","t":43.8,"v":266.7}
    ],
    "chan": [
      {"id":"up","t":4.98,"v":270.5},{"id":"up","t":47.48,"v":289.1},
      {"id":"lo","t":3.57,"v":234.8},{"id":"lo","t":47.48,"v":254.1},
      {"id":"d1","t":4.36,"v":264.0},{"id":"d1","t":47.48,"v":282.6},
      {"id":"d2","t":1.06,"v":251.4},{"id":"d2","t":47.48,"v":271.6},
      {"id":"d3","t":0.9,"v":238.3},{"id":"d3","t":47.48,"v":258.5},
      {"id":"g1","t":-0.2,"v":264.5},{"id":"g1","t":47.48,"v":286.2},
      {"id":"g2","t":-0.2,"v":252.3},{"id":"g2","t":47.48,"v":274.1},
      {"id":"g3","t":3.0,"v":241.1},{"id":"g3","t":47.48,"v":260.7}
    ],
    "fib": [
      {"v":282.19,"lab":"100.0%(282.19)"},
      {"v":275.5274,"lab":"76.4%(275.5274)"},
      {"v":271.4613,"lab":"61.8%(271.4613)"},
      {"v":268.175,"lab":"50.0%(268.175)"},
      {"v":264.8887,"lab":"38.2%(264.8887)"},
      {"v":260.8226,"lab":"23.6%(260.8226)"},
      {"v":254.25,"lab":"0.0%(254.25)"}
    ],
    "sig": [
      {"k":"dn","t":19.9,"v":259.7},{"k":"dn","t":21.55,"v":272.3},{"k":"dn","t":30.65,"v":275.6},
      {"k":"up","t":40.44,"v":264.7},{"k":"up","t":41.3,"v":257.4},{"k":"up","t":41.7,"v":256.0}
    ],
    "ext": [
      {"k":"cyan","t":30.3,"v":21},{"k":"cyan","t":33.5,"v":-21},
      {"k":"orange","t":34.0,"v":-14},{"k":"orange","t":42.0,"v":26}
    ],
    "tags": [
      {"p":"main","s":"green","v":266.25,"lab":""},
      {"p":"main","s":"navy","v":266.75,"lab":"266.6988"},
      {"p":"main","s":"red","v":262.3,"lab":"262.092"},
      {"p":"main","s":"black","v":251.45,"lab":"251.45"},
      {"p":"osc","s":"orange","v":1.5,"lab":""},
      {"p":"osc","s":"cyan","v":8,"lab":"10.4155"},
      {"p":"vol","s":"navy","v":0.73,"lab":"0.823M"},
      {"p":"macd","s":"red","v":-1.9,"lab":""},
      {"p":"macd","s":"green","v":-0.5,"lab":"-0.448"},
      {"p":"macd","s":"white","v":-2.75,"lab":"-2.5971"},
      {"p":"dmi","s":"red","v":36.4,"lab":"36.5538"},
      {"p":"dmi","s":"green","v":9.1,"lab":"8.9727"},
      {"p":"rsi","s":"navy","v":31,"lab":"31.1752"}
    ],
    "months": [
      {"m":"Окт 2015","t":9.53},{"m":"Нбр 2015","t":30.0},{"m":"Дек 2015","t":42.5}
    ],
    "one": [{}]
  },
  "vconcat": [
    {
      "width": 1850,
      "height": 608,
      "layer": [
        {
          "data": {"name": "chan"},
          "transform": [{"filter": {"field": "id", "oneOf": ["g1", "g3"]}}],
          "mark": {"type": "line", "color": "#CDCDDC", "strokeWidth": 1.5},
          "encoding": {
            "x": {"field": "t", "type": "quantitative", "scale": {"domain": [-0.2, 47.48], "nice": false, "zero": false},
              "axis": {"values": [0,1,2,3,4,5,6,7,8,9,10,11,12,13,14,15,16,17,18,19,20,21,22,23,24,25,26,27,28,29,30,31,32,33,34,35,36,37,38,39,40,41,42,43,44], "grid": true, "gridDash": [4,3], "gridColor": "#3a3a3a", "labels": false, "ticks": false, "domain": false, "title": null}},
            "y": {"field": "v", "type": "quantitative", "scale": {"domain": [234.7, 289.55], "nice": false, "zero": false},
              "axis": {"orient": "right", "values": [240,250,260,270,280], "grid": true, "gridDash": [1,2], "gridColor": "#000", "tickSize": 6, "labelPadding": 2, "title": null}},
            "detail": {"field": "id"}
          }
        },
        {
          "data": {"name": "chan"},
          "transform": [{"filter": "datum.id == 'g2'"}],
          "mark": {"type": "line", "color": "#CDCDDC", "strokeWidth": 1.5, "strokeDash": [8,6]},
          "encoding": {"x": {"field": "t", "type": "quantitative"}, "y": {"field": "v", "type": "quantitative"}}
        },
        {
          "data": {"name": "one"},
          "mark": {"type": "rule", "color": "#F2A23A", "strokeDash": [2,2], "strokeWidth": 1.5},
          "encoding": {"y": {"datum": 256.3}}
        },
        {
          "data": {"name": "fib"},
          "mark": {"type": "rule", "color": "#8C8C40", "strokeWidth": 1},
          "encoding": {"x": {"datum": 31.96}, "x2": {"datum": 47.48}, "y": {"field": "v", "type": "quantitative"}}
        },
        {
          "data": {"name": "chan"},
          "transform": [{"filter": {"field": "id", "oneOf": ["up", "lo"]}}],
          "mark": {"type": "line", "color": "#C0922E", "strokeWidth": 2.2},
          "encoding": {"x": {"field": "t", "type": "quantitative"}, "y": {"field": "v", "type": "quantitative"}, "detail": {"field": "id"}}
        },
        {
          "data": {"name": "chan"},
          "transform": [{"filter": {"field": "id", "oneOf": ["d1", "d2", "d3"]}}],
          "mark": {"type": "line", "color": "#B89C2C", "strokeWidth": 2, "strokeDash": [9,6]},
          "encoding": {"x": {"field": "t", "type": "quantitative"}, "y": {"field": "v", "type": "quantitative"}, "detail": {"field": "id"}}
        },
        {
          "data": {"name": "ma"},
          "transform": [{"filter": "datum.s == 'b'"}],
          "mark": {"type": "line", "color": "#1A1F80", "strokeWidth": 1.3},
          "encoding": {"x": {"field": "t", "type": "quantitative"}, "y": {"field": "v", "type": "quantitative"}}
        },
        {
          "data": {"name": "ma"},
          "transform": [{"filter": "datum.s == 'g'"}],
          "mark": {"type": "line", "color": "#3A9A50", "strokeWidth": 1.2},
          "encoding": {"x": {"field": "t", "type": "quantitative"}, "y": {"field": "v", "type": "quantitative"}}
        },
        {
          "data": {"name": "ma"},
          "transform": [{"filter": "datum.s == 'r'"}],
          "mark": {"type": "line", "color": "#C8464C", "strokeWidth": 1.2},
          "encoding": {"x": {"field": "t", "type": "quantitative"}, "y": {"field": "v", "type": "quantitative"}}
        },
        {
          "data": {"name": "bars"},
          "mark": {"type": "rule", "strokeWidth": 1},
          "encoding": {
            "x": {"field": "t", "type": "quantitative"},
            "y": {"field": "l", "type": "quantitative"},
            "y2": {"field": "h"},
            "color": {"condition": {"test": "(datum.t > 0.5 && datum.t < 0.8) || (datum.t > 9.9 && datum.t < 11.4)", "value": "#2FC8DC"}, "value": "#000000"}
          }
        },
        {
          "data": {"name": "bars"},
          "mark": {"type": "bar", "size": 4, "strokeWidth": 0.8},
          "encoding": {
            "x": {"field": "t", "type": "quantitative"},
            "y": {"field": "o", "type": "quantitative"},
            "y2": {"field": "c"},
            "fill": {"condition": [{"test": "(datum.t > 0.5 && datum.t < 0.8) || (datum.t > 9.9 && datum.t < 11.4)", "value": "#D030D0"}, {"test": "datum.c >= datum.o", "value": "#FFFFFF"}], "value": "#000000"},
            "stroke": {"condition": {"test": "(datum.t > 0.5 && datum.t < 0.8) || (datum.t > 9.9 && datum.t < 11.4)", "value": "#D030D0"}, "value": "#000000"}
          }
        },
        {
          "data": {"name": "sig"},
          "transform": [{"filter": "datum.k == 'dn'"}],
          "mark": {"type": "point", "shape": "triangle-down", "filled": true, "color": "#E02020", "size": 60, "opacity": 1},
          "encoding": {"x": {"field": "t", "type": "quantitative"}, "y": {"field": "v", "type": "quantitative"}}
        },
        {
          "data": {"name": "sig"},
          "transform": [{"filter": "datum.k == 'up'"}],
          "mark": {"type": "point", "shape": "triangle-up", "filled": true, "color": "#2EDC4A", "size": 60, "opacity": 1},
          "encoding": {"x": {"field": "t", "type": "quantitative"}, "y": {"field": "v", "type": "quantitative"}}
        },
        {
          "data": {"name": "fib"},
          "mark": {"type": "text", "align": "right", "baseline": "bottom", "dy": -1, "fontSize": 12, "color": "#85853A"},
          "encoding": {"x": {"datum": 47.4}, "y": {"field": "v", "type": "quantitative"}, "text": {"field": "lab"}}
        },
        {
          "data": {"name": "tags"},
          "transform": [{"filter": "datum.p == 'main'"}],
          "layer": [
            {
              "mark": {"type": "point", "shape": "triangle-left", "filled": true, "size": 70, "opacity": 1},
              "encoding": {"x": {"datum": 47.47}, "y": {"field": "v", "type": "quantitative"},
                "fill": {"field": "s", "type": "nominal", "legend": null, "scale": {"domain": ["navy","green","red","black","cyan","orange","white"], "range": ["#1C33CC","#22D422","#E21B1B","#000000","#3DC3EE","#F39A22","#FFFFFF"]}}}
            },
            {
              "mark": {"type": "bar", "size": 18, "stroke": "#000", "strokeWidth": 0.6},
              "encoding": {"x": {"datum": 47.53}, "x2": {"datum": 49.13}, "y": {"field": "v", "type": "quantitative"},
                "fill": {"field": "s", "type": "nominal", "legend": null, "scale": {"domain": ["navy","green","red","black","cyan","orange","white"], "range": ["#1C33CC","#22D422","#E21B1B","#000000","#3DC3EE","#F39A22","#FFFFFF"]}}}
            },
            {
              "mark": {"type": "text", "align": "center", "baseline": "middle", "fontSize": 15},
              "encoding": {"x": {"datum": 48.33}, "y": {"field": "v", "type": "quantitative"}, "text": {"field": "lab"},
                "color": {"field": "s", "type": "nominal", "legend": null, "scale": {"domain": ["navy","green","red","black","cyan","orange","white"], "range": ["#FFFFFF","#0E3A0E","#FFFFFF","#FFFFFF","#0B2C70","#5A3200","#000000"]}}}
            }
          ]
        }
      ]
    },
    {
      "width": 1850,
      "height": 68,
      "layer": [
        {
          "data": {"name": "bars"},
          "mark": {"type": "bar", "size": 4},
          "encoding": {
            "x": {"field": "t", "type": "quantitative", "scale": {"domain": [-0.2, 47.48], "nice": false, "zero": false},
              "axis": {"values": [0,1,2,3,4,5,6,7,8,9,10,11,12,13,14,15,16,17,18,19,20,21,22,23,24,25,26,27,28,29,30,31,32,33,34,35,36,37,38,39,40,41,42,43,44], "grid": true, "gridDash": [4,3], "gridColor": "#3a3a3a", "labels": false, "ticks": false, "domain": false, "title": null}},
            "y": {"field": "m", "type": "quantitative", "scale": {"domain": [-23.1, 35], "nice": false, "zero": false},
              "axis": {"orient": "right", "values": [-20, 0, 20], "labels": false, "grid": false, "tickSize": 5, "title": null}},
            "y2": {"datum": 0},
            "color": {"condition": {"test": "datum.m >= 19.5", "value": "#E02FD9"}, "value": "#3EC6EA"}
          }
        },
        {
          "data": {"name": "one"},
          "mark": {"type": "rule", "color": "#8A8A8A", "strokeWidth": 1},
          "encoding": {"y": {"datum": 0}}
        },
        {
          "data": {"name": "one"},
          "mark": {"type": "rule", "color": "#333333", "strokeWidth": 1, "strokeDash": [7,4]},
          "encoding": {"y": {"datum": 20}}
        },
        {
          "data": {"name": "ind"},
          "mark": {"type": "line", "color": "#F0A030", "strokeWidth": 2},
          "encoding": {"x": {"field": "t", "type": "quantitative"}, "y": {"field": "os", "type": "quantitative"}}
        },
        {
          "data": {"name": "ext"},
          "transform": [{"filter": "datum.k == 'cyan'"}],
          "mark": {"type": "circle", "size": 40, "color": "#3AB7E0", "opacity": 1},
          "encoding": {"x": {"field": "t", "type": "quantitative"}, "y": {"field": "v", "type": "quantitative"}}
        },
        {
          "data": {"name": "ext"},
          "transform": [{"filter": "datum.k == 'orange'"}],
          "mark": {"type": "circle", "size": 50, "color": "#F08A20", "opacity": 1},
          "encoding": {"x": {"field": "t", "type": "quantitative"}, "y": {"field": "v", "type": "quantitative"}}
        },
        {
          "data": {"name": "one"},
          "mark": {"type": "text", "align": "left", "baseline": "middle", "fontSize": 13, "color": "#3AB7E0"},
          "encoding": {"x": {"datum": 29.7}, "y": {"datum": 25.6}, "text": {"value": "Hi: 20.3934"}}
        },
        {
          "data": {"name": "one"},
          "mark": {"type": "text", "align": "left", "baseline": "middle", "fontSize": 13, "color": "#3AB7E0"},
          "encoding": {"x": {"datum": 30.9}, "y": {"datum": -13}, "text": {"value": "Low: -20.8884"}}
        },
        {
          "data": {"name": "one"},
          "mark": {"type": "text", "align": "left", "baseline": "middle", "fontSize": 13, "color": "#F0A030", "opacity": 0.8},
          "encoding": {"x": {"datum": 34.25}, "y": {"datum": -13.5}, "text": {"value": "-6.3578"}}
        },
        {
          "data": {"name": "one"},
          "mark": {"type": "rule", "color": "#8F8F8F", "strokeWidth": 4},
          "encoding": {"x": {"datum": -0.2}, "x2": {"datum": 49.13}, "y": {"datum": 36.7}}
        },
        {
          "data": {"name": "tags"},
          "transform": [{"filter": "datum.p == 'osc'"}],
          "layer": [
            {
              "mark": {"type": "point", "shape": "triangle-left", "filled": true, "size": 70, "opacity": 1},
              "encoding": {"x": {"datum": 47.47}, "y": {"field": "v", "type": "quantitative"},
                "fill": {"field": "s", "type": "nominal", "legend": null, "scale": {"domain": ["navy","green","red","black","cyan","orange","white"], "range": ["#1C33CC","#22D422","#E21B1B","#000000","#3DC3EE","#F39A22","#FFFFFF"]}}}
            },
            {
              "mark": {"type": "bar", "size": 18, "stroke": "#000", "strokeWidth": 0.6},
              "encoding": {"x": {"datum": 47.53}, "x2": {"datum": 49.13}, "y": {"field": "v", "type": "quantitative"},
                "fill": {"field": "s", "type": "nominal", "legend": null, "scale": {"domain": ["navy","green","red","black","cyan","orange","white"], "range": ["#1C33CC","#22D422","#E21B1B","#000000","#3DC3EE","#F39A22","#FFFFFF"]}}}
            },
            {
              "mark": {"type": "text", "align": "center", "baseline": "middle", "fontSize": 15},
              "encoding": {"x": {"datum": 48.33}, "y": {"field": "v", "type": "quantitative"}, "text": {"field": "lab"},
                "color": {"field": "s", "type": "nominal", "legend": null, "scale": {"domain": ["navy","green","red","black","cyan","orange","white"], "range": ["#FFFFFF","#0E3A0E","#FFFFFF","#FFFFFF","#0B2C70","#5A3200","#000000"]}}}
            }
          ]
        }
      ]
    },
    {
      "width": 1850,
      "height": 48,
      "layer": [
        {
          "data": {"name": "bars"},
          "mark": {"type": "bar", "size": 2, "color": "#191980"},
          "encoding": {
            "x": {"field": "t", "type": "quantitative", "scale": {"domain": [-0.2, 47.48], "nice": false, "zero": false},
              "axis": {"values": [0,1,2,3,4,5,6,7,8,9,10,11,12,13,14,15,16,17,18,19,20,21,22,23,24,25,26,27,28,29,30,31,32,33,34,35,36,37,38,39,40,41,42,43,44], "grid": true, "gridDash": [4,3], "gridColor": "#3a3a3a", "labels": false, "ticks": false, "domain": false, "title": null}},
            "y": {"field": "v", "type": "quantitative", "scale": {"domain": [-0.4, 2.8], "nice": false, "zero": false},
              "axis": {"orient": "right", "values": [0, 1, 2], "grid": true, "gridDash": [1,2], "gridColor": "#000", "tickSize": 6, "labelPadding": 2, "title": null,
                "labelExpr": "datum.value == 2 ? '2M' : datum.value == 0 ? '0' : ''"}},
            "y2": {"datum": 0}
          }
        },
        {
          "data": {"name": "one"},
          "mark": {"type": "rule", "color": "#8F8F8F", "strokeWidth": 4},
          "encoding": {"x": {"datum": -0.2}, "x2": {"datum": 49.13}, "y": {"datum": 2.933}}
        },
        {
          "data": {"name": "tags"},
          "transform": [{"filter": "datum.p == 'vol'"}],
          "layer": [
            {
              "mark": {"type": "point", "shape": "triangle-left", "filled": true, "size": 70, "opacity": 1},
              "encoding": {"x": {"datum": 47.47}, "y": {"field": "v", "type": "quantitative"},
                "fill": {"field": "s", "type": "nominal", "legend": null, "scale": {"domain": ["navy","green","red","black","cyan","orange","white"], "range": ["#1C33CC","#22D422","#E21B1B","#000000","#3DC3EE","#F39A22","#FFFFFF"]}}}
            },
            {
              "mark": {"type": "bar", "size": 18, "stroke": "#000", "strokeWidth": 0.6},
              "encoding": {"x": {"datum": 47.53}, "x2": {"datum": 49.13}, "y": {"field": "v", "type": "quantitative"},
                "fill": {"field": "s", "type": "nominal", "legend": null, "scale": {"domain": ["navy","green","red","black","cyan","orange","white"], "range": ["#1C33CC","#22D422","#E21B1B","#000000","#3DC3EE","#F39A22","#FFFFFF"]}}}
            },
            {
              "mark": {"type": "text", "align": "center", "baseline": "middle", "fontSize": 15},
              "encoding": {"x": {"datum": 48.33}, "y": {"field": "v", "type": "quantitative"}, "text": {"field": "lab"},
                "color": {"field": "s", "type": "nominal", "legend": null, "scale": {"domain": ["navy","green","red","black","cyan","orange","white"], "range": ["#FFFFFF","#0E3A0E","#FFFFFF","#FFFFFF","#0B2C70","#5A3200","#000000"]}}}
            }
          ]
        }
      ]
    },
    {
      "width": 1850,
      "height": 90,
      "layer": [
        {
          "data": {"name": "bars"},
          "mark": {"type": "bar", "size": 3, "color": "#6FDC5E"},
          "encoding": {
            "x": {"field": "t", "type": "quantitative", "scale": {"domain": [-0.2, 47.48], "nice": false, "zero": false},
              "axis": {"values": [0,1,2,3,4,5,6,7,8,9,10,11,12,13,14,15,16,17,18,19,20,21,22,23,24,25,26,27,28,29,30,31,32,33,34,35,36,37,38,39,40,41,42,43,44], "grid": true, "gridDash": [4,3], "gridColor": "#3a3a3a", "labels": false, "ticks": false, "domain": false, "title": null}},
            "y": {"field": "mh", "type": "quantitative", "scale": {"domain": [-4.29, 6.43], "nice": false, "zero": false},
              "axis": {"orient": "right", "values": [5], "grid": true, "gridDash": [1,2], "gridColor": "#000", "tickSize": 6, "labelPadding": 2, "title": null}},
            "y2": {"datum": 0}
          }
        },
        {
          "data": {"name": "one"},
          "mark": {"type": "rule", "color": "#8A8A8A", "strokeWidth": 1},
          "encoding": {"y": {"datum": 0}}
        },
        {
          "data": {"name": "ind"},
          "mark": {"type": "area", "color": "#F2A0A0", "opacity": 0.75},
          "encoding": {"x": {"field": "t", "type": "quantitative"}, "y": {"field": "macd", "type": "quantitative"}, "y2": {"field": "sig"}}
        },
        {
          "data": {"name": "ind"},
          "mark": {"type": "line", "color": "#A8343A", "strokeWidth": 1.2},
          "encoding": {"x": {"field": "t", "type": "quantitative"}, "y": {"field": "macd", "type": "quantitative"}}
        },
        {
          "data": {"name": "one"},
          "mark": {"type": "rule", "color": "#8F8F8F", "strokeWidth": 4},
          "encoding": {"x": {"datum": -0.2}, "x2": {"datum": 49.13}, "y": {"datum": 6.67}}
        },
        {
          "data": {"name": "tags"},
          "transform": [{"filter": "datum.p == 'macd'"}],
          "layer": [
            {
              "mark": {"type": "point", "shape": "triangle-left", "filled": true, "size": 70, "opacity": 1, "stroke": "#000", "strokeWidth": 0.6},
              "encoding": {"x": {"datum": 47.47}, "y": {"field": "v", "type": "quantitative"},
                "fill": {"field": "s", "type": "nominal", "legend": null, "scale": {"domain": ["navy","green","red","black","cyan","orange","white"], "range": ["#1C33CC","#22D422","#E21B1B","#000000","#3DC3EE","#F39A22","#FFFFFF"]}}}
            },
            {
              "mark": {"type": "bar", "size": 18, "stroke": "#000", "strokeWidth": 0.6},
              "encoding": {"x": {"datum": 47.53}, "x2": {"datum": 49.13}, "y": {"field": "v", "type": "quantitative"},
                "fill": {"field": "s", "type": "nominal", "legend": null, "scale": {"domain": ["navy","green","red","black","cyan","orange","white"], "range": ["#1C33CC","#22D422","#E21B1B","#000000","#3DC3EE","#F39A22","#FFFFFF"]}}}
            },
            {
              "mark": {"type": "text", "align": "center", "baseline": "middle", "fontSize": 15},
              "encoding": {"x": {"datum": 48.33}, "y": {"field": "v", "type": "quantitative"}, "text": {"field": "lab"},
                "color": {"field": "s", "type": "nominal", "legend": null, "scale": {"domain": ["navy","green","red","black","cyan","orange","white"], "range": ["#FFFFFF","#0E3A0E","#FFFFFF","#FFFFFF","#0B2C70","#5A3200","#000000"]}}}
            }
          ]
        }
      ]
    },
    {
      "width": 1850,
      "height": 71,
      "layer": [
        {
          "data": {"name": "ind"},
          "transform": [
            {"fold": ["dip", "dim"]},
            {"joinaggregate": [{"op": "min", "field": "value", "as": "lo"}], "groupby": ["t"]},
            {"filter": "datum.key == 'dip'"}
          ],
          "mark": {"type": "area", "color": "#7DEB7D", "opacity": 0.85},
          "encoding": {
            "x": {"field": "t", "type": "quantitative", "scale": {"domain": [-0.2, 47.48], "nice": false, "zero": false},
              "axis": {"values": [0,1,2,3,4,5,6,7,8,9,10,11,12,13,14,15,16,17,18,19,20,21,22,23,24,25,26,27,28,29,30,31,32,33,34,35,36,37,38,39,40,41,42,43,44], "grid": true, "gridDash": [4,3], "gridColor": "#3a3a3a", "labels": false, "ticks": false, "domain": false, "title": null}},
            "y": {"field": "dip", "type": "quantitative", "scale": {"domain": [-4.5, 76.1], "nice": false, "zero": false},
              "axis": {"orient": "right", "values": [0, 50], "grid": true, "gridDash": [1,2], "gridColor": "#000", "tickSize": 6, "labelPadding": 2, "title": null}},
            "y2": {"field": "lo"}
          }
        },
        {
          "data": {"name": "ind"},
          "transform": [
            {"fold": ["dip", "dim"]},
            {"joinaggregate": [{"op": "min", "field": "value", "as": "lo"}], "groupby": ["t"]},
            {"filter": "datum.key == 'dim'"}
          ],
          "mark": {"type": "area", "color": "#F4A3A3", "opacity": 0.85},
          "encoding": {"x": {"field": "t", "type": "quantitative"}, "y": {"field": "dim", "type": "quantitative"}, "y2": {"field": "lo"}}
        },
        {
          "data": {"name": "ind"},
          "mark": {"type": "line", "color": "#4E8A3A", "strokeWidth": 0.8},
          "encoding": {"x": {"field": "t", "type": "quantitative"}, "y": {"field": "dip", "type": "quantitative"}}
        },
        {
          "data": {"name": "ind"},
          "mark": {"type": "line", "color": "#9A4030", "strokeWidth": 0.8},
          "encoding": {"x": {"field": "t", "type": "quantitative"}, "y": {"field": "dim", "type": "quantitative"}}
        },
        {
          "data": {"name": "ind"},
          "mark": {"type": "line", "color": "#1A1A9A", "strokeWidth": 2.2},
          "encoding": {"x": {"field": "t", "type": "quantitative"}, "y": {"field": "adx", "type": "quantitative"}}
        },
        {
          "data": {"name": "one"},
          "mark": {"type": "rule", "color": "#8F8F8F", "strokeWidth": 4},
          "encoding": {"x": {"datum": -0.2}, "x2": {"datum": 49.13}, "y": {"datum": 78.4}}
        },
        {
          "data": {"name": "tags"},
          "transform": [{"filter": "datum.p == 'dmi'"}],
          "layer": [
            {
              "mark": {"type": "point", "shape": "triangle-left", "filled": true, "size": 70, "opacity": 1},
              "encoding": {"x": {"datum": 47.47}, "y": {"field": "v", "type": "quantitative"},
                "fill": {"field": "s", "type": "nominal", "legend": null, "scale": {"domain": ["navy","green","red","black","cyan","orange","white"], "range": ["#1C33CC","#22D422","#E21B1B","#000000","#3DC3EE","#F39A22","#FFFFFF"]}}}
            },
            {
              "mark": {"type": "bar", "size": 18, "stroke": "#000", "strokeWidth": 0.6},
              "encoding": {"x": {"datum": 47.53}, "x2": {"datum": 49.13}, "y": {"field": "v", "type": "quantitative"},
                "fill": {"field": "s", "type": "nominal", "legend": null, "scale": {"domain": ["navy","green","red","black","cyan","orange","white"], "range": ["#1C33CC","#22D422","#E21B1B","#000000","#3DC3EE","#F39A22","#FFFFFF"]}}}
            },
            {
              "mark": {"type": "text", "align": "center", "baseline": "middle", "fontSize": 15},
              "encoding": {"x": {"datum": 48.33}, "y": {"field": "v", "type": "quantitative"}, "text": {"field": "lab"},
                "color": {"field": "s", "type": "nominal", "legend": null, "scale": {"domain": ["navy","green","red","black","cyan","orange","white"], "range": ["#FFFFFF","#0E3A0E","#FFFFFF","#FFFFFF","#0B2C70","#5A3200","#000000"]}}}
            }
          ]
        }
      ]
    },
    {
      "width": 1850,
      "height": 79,
      "layer": [
        {
          "data": {"name": "bars"},
          "mark": {"type": "line", "color": "#1A1A9A", "strokeWidth": 2},
          "encoding": {
            "x": {"field": "t", "type": "quantitative", "scale": {"domain": [-0.2, 47.48], "nice": false, "zero": false},
              "axis": {"orient": "bottom", "values": [0,1,2,3,4,5,6,7,8,9,10,11,12,13,14,15,16,17,18,19,20,21,22,23,24,25,26,27,28,29,30,31,32,33,34,35,36,37,38,39,40,41,42,43,44],
                "grid": true, "gridDash": [4,3], "gridColor": "#3a3a3a", "ticks": false, "domain": true, "title": null,
                "labelExpr": "['05','06','07','08','09','12','13','14','15','16','19','20','21','22','23','26','27','28','29','30','02','03','05','06','09','10','11','12','13','16','17','18','19','20','23','24','25','26','27','30','01','02','03','04','07'][datum.value]",
                "labelOffset": 19.4, "labelPadding": 4, "labelFlush": false, "labelOverlap": false, "labelFontSize": 13}},
            "y": {"field": "r", "type": "quantitative", "scale": {"domain": [-14.75, 114.75], "nice": false, "zero": false},
              "axis": {"orient": "right", "values": [0, 50, 100], "grid": true, "gridDash": [1,2], "gridColor": "#000", "tickSize": 6, "labelPadding": 2, "title": null}}
          }
        },
        {
          "data": {"name": "one"},
          "mark": {"type": "rule", "color": "#C83A3A", "strokeWidth": 1},
          "encoding": {"y": {"datum": 70}}
        },
        {
          "data": {"name": "one"},
          "mark": {"type": "rule", "color": "#3AAA3A", "strokeWidth": 1},
          "encoding": {"y": {"datum": 30}}
        },
        {
          "data": {"name": "one"},
          "mark": {"type": "rule", "color": "#8F8F8F", "strokeWidth": 4},
          "encoding": {"x": {"datum": -0.2}, "x2": {"datum": 49.13}, "y": {"datum": 118}}
        },
        {
          "data": {"name": "tags"},
          "transform": [{"filter": "datum.p == 'rsi'"}],
          "layer": [
            {
              "mark": {"type": "point", "shape": "triangle-left", "filled": true, "size": 70, "opacity": 1},
              "encoding": {"x": {"datum": 47.47}, "y": {"field": "v", "type": "quantitative"},
                "fill": {"field": "s", "type": "nominal", "legend": null, "scale": {"domain": ["navy","green","red","black","cyan","orange","white"], "range": ["#1C33CC","#22D422","#E21B1B","#000000","#3DC3EE","#F39A22","#FFFFFF"]}}}
            },
            {
              "mark": {"type": "bar", "size": 18, "stroke": "#000", "strokeWidth": 0.6},
              "encoding": {"x": {"datum": 47.53}, "x2": {"datum": 49.13}, "y": {"field": "v", "type": "quantitative"},
                "fill": {"field": "s", "type": "nominal", "legend": null, "scale": {"domain": ["navy","green","red","black","cyan","orange","white"], "range": ["#1C33CC","#22D422","#E21B1B","#000000","#3DC3EE","#F39A22","#FFFFFF"]}}}
            },
            {
              "mark": {"type": "text", "align": "center", "baseline": "middle", "fontSize": 15},
              "encoding": {"x": {"datum": 48.33}, "y": {"field": "v", "type": "quantitative"}, "text": {"field": "lab"},
                "color": {"field": "s", "type": "nominal", "legend": null, "scale": {"domain": ["navy","green","red","black","cyan","orange","white"], "range": ["#FFFFFF","#0E3A0E","#FFFFFF","#FFFFFF","#0B2C70","#5A3200","#000000"]}}}
            }
          ]
        }
      ]
    },
    {
      "width": 1850,
      "height": 49,
      "layer": [
        {
          "data": {"name": "months"},
          "mark": {"type": "text", "align": "center", "baseline": "middle", "fontSize": 13, "color": "#000"},
          "encoding": {
            "x": {"field": "t", "type": "quantitative", "scale": {"domain": [-0.2, 47.48], "nice": false, "zero": false}, "axis": null},
            "y": {"datum": 23.7, "type": "quantitative", "scale": {"domain": [0, 49], "nice": false, "zero": false, "reverse": true}, "axis": null},
            "text": {"field": "m"}
          }
        },
        {
          "data": {"name": "one"},
          "mark": {"type": "rule", "color": "#000", "strokeWidth": 1},
          "encoding": {"x": {"datum": 20}, "y": {"datum": -4}, "y2": {"datum": 30}}
        },
        {
          "data": {"name": "one"},
          "mark": {"type": "rule", "color": "#000", "strokeWidth": 1},
          "encoding": {"x": {"datum": 40}, "y": {"datum": -4}, "y2": {"datum": 30}}
        },
        {
          "data": {"name": "one"},
          "mark": {"type": "text", "align": "center", "baseline": "middle", "fontSize": 26, "fontWeight": "bold", "fontStyle": "italic", "color": "#E8E8E8"},
          "encoding": {"x": {"datum": 46.3}, "y": {"datum": 26}, "text": {"value": "SMGroup"}}
        },
        {
          "data": {"name": "one"},
          "mark": {"type": "text", "align": "left", "baseline": "middle", "fontSize": 12.5, "color": "#000"},
          "encoding": {"x": {"datum": -0.14}, "y": {"datum": 42}, "text": {"value": "ROSN RX Equity (OAO Роснефть) Graph 119"}}
        },
        {
          "data": {"name": "one"},
          "mark": {"type": "text", "align": "left", "baseline": "middle", "fontSize": 12.5, "color": "#000"},
          "encoding": {"x": {"datum": 8.54}, "y": {"datum": 42}, "text": {"value": "60 дн. 60 мин."}}
        },
        {
          "data": {"name": "one"},
          "mark": {"type": "text", "align": "center", "baseline": "middle", "fontSize": 12.5, "color": "#000"},
          "encoding": {"x": {"datum": 28.23}, "y": {"datum": 42}, "text": {"value": "Copyright© 2015 Bloomberg Finance L.P."}}
        },
        {
          "data": {"name": "one"},
          "mark": {"type": "text", "align": "right", "baseline": "middle", "fontSize": 12.5, "color": "#000"},
          "encoding": {"x": {"datum": 49.05}, "y": {"datum": 42}, "text": {"value": "07-Dec-2015 08:11:16"}}
        }
      ]
    }
  ]
}
